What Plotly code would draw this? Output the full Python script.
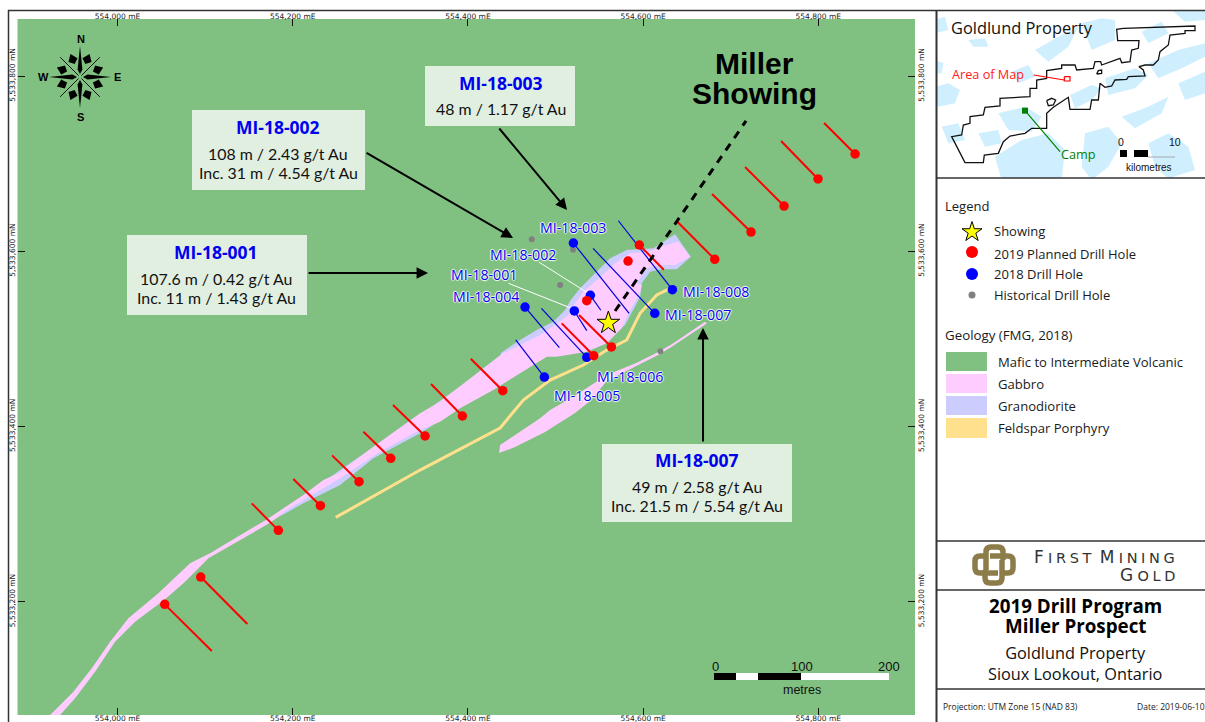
import plotly.graph_objects as go
import math

# ---- Map data: metres east of 554,000 mE and metres north of 5,533,000 mN ----
gabbro_e = [-77,-50.4,-29.4,-8.5,12.4,46.6,82.8,105.6,170.4,212.2,235,252.1,292.1,318.8,345.4,368.2,438.6,463.3,482.4,499.5,514.7,522.3,531.8,550.9,568,585.1,606,619.4,640.2,653.6,636.5,619.4,604.2,592.8,598.5,596.5,585.1,575.6,558.5,535.7,501.4,490,456.5,429,391,368.2,345.4,299.7,254,216,193.2,174.1,103.7,88.5,75.2,54.3,20,-2.8,-25.6,-48.5,-65.6]
gabbro_n = [70.6,97.1,123.9,154.2,180.9,209.5,243.7,255.2,293.9,321.7,338.8,346.5,376.8,395.9,415,428.2,482.7,494.9,504.4,515.8,527.2,540.6,553.8,570.2,586.2,597.6,599.5,605.2,610.9,593.8,584.3,584.3,580.5,563.4,561.4,552,532.9,512,494.9,485.3,479.6,479.6,458.7,441.6,420.7,405.4,395.9,371.1,340.8,317.9,304.6,290,249.4,234.2,220.9,202.6,177.1,154.2,120,89.6,70.6]
granodiorite_e = [437.8,459.5,478.6,497.5,510.9,517.4,528,547.1,562.3,581.3,600.3,611.7,636.5,654.4,638.4,621.3,607.9,598.5,596.5,579.4,550.9,505.2,459.5,428.7,391,345.4,292.1,254,212.2,174.1,254,345.4,436.7]
granodiorite_n = [484.2,498.7,510.1,519.6,532.9,544.3,557.7,576.6,591.9,601.4,602.2,603.3,619.3,593.8,579.4,579.4,576.6,563.4,547.7,515.8,492.9,487.2,464.4,446.1,421,392.1,363.6,333.1,312.2,291.2,350.2,413,478.1]
gabbro2_e = [670.7,634.5,619.4,592.8,558.5,520.4,493.8,482.4,436.7,435.6,453.8,488.1,522.3,539.4,558.5,592.8,619.4,634.5,672.7]
gabbro2_n = [519.5,494.9,486.1,472.8,458.7,433.9,418.7,409.3,378.8,369.7,376.5,393.6,415.3,429,451.8,469.3,482.7,492.2,517.5]
porphyry_e = [249.1,345.4,436.7,446.2,463.3,493.8,531.8,558.5,581.3,596.5,615.6,630.8]
porphyry_n = [296.2,350.2,398.2,409.3,430.2,453,470.1,487.2,498.7,529.1,550,557.7]

planned_e = [53.9,95,183.6,231.6,275.7,311.9,351.1,393.7,439.8,543.7,563.8,535.7,582.8,595.7,681.8,723.2,760.9,799.7,842]
planned_n = [196.9,228.1,281.4,309.5,336.9,363.6,389.1,411.9,440.8,480.7,490.7,543.5,588.8,607.1,590.8,621.9,651.6,682.5,711]
planned_toe_e = [107.6,148.2,153.2,200.7,244.9,280.7,314.5,357.9,403.3,507.1,526.9,None,None,623.6,639.1,678.7,716.4,757.5,806.6]
planned_toe_n = [143.6,174.4,312.2,340,367,394,424.5,448.4,477.3,517.7,527.2,None,None,578.9,633.7,665.3,696.2,725.8,746.4]

drilled_names = ["MI-18-001","MI-18-002","MI-18-003","MI-18-004","MI-18-005","MI-18-006","MI-18-007","MI-18-008"]
drilled_e = [521.5,539.8,520.4,465.2,487.3,535.7,613.3,633.4]
drilled_n = [531.8,549.7,609.4,536.3,456.4,478.9,529.1,556.1]
drilled_toe_e = [535.7,551.7,584,504.4,454.6,483.9,542.9,571.8]
drilled_toe_n = [509.3,532.6,529.1,489.9,498.7,534.8,603.3,634.8]

historical_e = [472.9,520,505.2,619.7]
historical_n = [613.6,601.7,561.4,485.8]
showing_e = [560.3]
showing_n = [518.1]
trend_e = [568,717.5]
trend_n = [531.8,748.7]

easting_ticks = [0,200,400,600,800]
easting_labels = ["554,000 mE","554,200 mE","554,400 mE","554,600 mE","554,800 mE"]
northing_ticks = [200,400,600,800]
northing_labels = ["5,533,200 mN","5,533,400 mN","5,533,600 mN","5,533,800 mN"]

# ---- Location inset (inset map units) ----
lakes = [
 ([405,470,500,470,420],[285,255,265,300,325]),
 ([510,600,640,600,520],[235,205,225,265,285]),
 ([640,730,810,810,740,670],[190,150,130,170,205,235]),
 ([180,260,340,390,380,200],[470,420,400,450,540,540]),
 ([0,40,75,60,10,0],[260,250,270,310,320,300]),
 ([100,150,160,115],[120,115,140,140]),
 ([300,370,430,400,340],[150,110,80,140,185]),
 ([440,500,540,540,470],[70,55,60,120,150]),
 ([190,270,320,290,220],[340,320,350,395,390]),
 ([560,640,700,680,600],[350,320,290,340,385]),
 ([730,810,810,750],[250,215,280,300]),
 ([450,520,560,520,470,440],[400,380,430,500,540,500]),
 ([0,25,20,0],[180,190,220,220]),
 ([640,700,760,780,700,660],[430,400,440,510,535,500]),
 ([0,30,40,0],[60,50,90,100]),
 ([710,810,810,750],[30,30,60,65]),
 ([20,70,90,40],[380,370,420,430]),
 ([130,190,200,150],[400,390,430,440]),
 ([620,680,700,640],[95,65,100,130]),
 ([230,280,300,250],[215,195,230,250]),
]
property_x = [565,780,780,750,750,705,700,675,670,655,630,612,625,630,580,575,540,530,510,495,490,470,465,405,400,375,355,335,335,290,270,225,205,190,148,145,90,50,80,85,105,105,145,150,195,195,285,285,305,305,335,335,380,380,420,425,475,480,497,500,555,560,585,590,610,612,548,545,565,
 None,485,490,500,500,485,None,335,350,362,355,340,335]
property_y = [85,78,92,92,100,105,135,155,180,195,195,200,210,228,230,238,240,258,262,250,300,300,328,328,292,310,322,340,385,385,400,408,425,460,465,488,488,410,405,375,370,350,345,322,318,295,290,265,265,240,235,212,205,195,195,210,205,185,185,195,175,188,185,150,145,122,122,88,85,
 None,222,212,210,220,222,None,302,295,300,315,317,302]
map_area_x = [388,405,405,388,388]
map_area_y = [230,230,243,243,230]
area_leader_x = [296,388]
area_leader_y = [225,240]
camp_x = [270]
camp_y = [332]
camp_leader_x = [270,375]
camp_leader_y = [332,455]

GREEN, PINK, LILAC, YELLOW = "#80C080", "#FFCCFF", "#CCCCFF", "#FFE08C"
RED, BLUE, GREY = "#FF0000", "#0000FF", "#808080"
BODY = "Open Sans"

fig = go.Figure()

def poly(e, n, colour):
    fig.add_trace(go.Scatter(x=e, y=n, mode="lines", fill="toself", fillcolor=colour,
                             line=dict(width=0), hoverinfo="skip"))

def segments(x0, y0, x1, y1):
    xs, ys = [], []
    for a, b, c, d in zip(x0, y0, x1, y1):
        if c is None:
            continue
        xs += [a, c, None]
        ys += [b, d, None]
    return xs, ys

poly(granodiorite_e, granodiorite_n, LILAC)
poly(gabbro_e, gabbro_n, PINK)
poly(gabbro2_e, gabbro2_n, PINK)
fig.add_trace(go.Scatter(x=porphyry_e, y=porphyry_n, mode="lines", line=dict(color=YELLOW, width=3)))

fig.add_trace(go.Scatter(x=[480.9,538.7,None,446.2,518.5], y=[587.7,551.2,None,563.4,534.8], mode="lines",
                         line=dict(color="white", width=1)))
sx, sy = segments(drilled_e, drilled_n, drilled_toe_e, drilled_toe_n)
fig.add_trace(go.Scatter(x=sx, y=sy, mode="lines", line=dict(color="#0000DD", width=1.2)))
sx, sy = segments(planned_e, planned_n, planned_toe_e, planned_toe_n)
fig.add_trace(go.Scatter(x=sx, y=sy, mode="lines", line=dict(color=RED, width=2)))
fig.add_trace(go.Scatter(x=trend_e, y=trend_n, mode="lines", line=dict(color="black", width=3, dash="8px,7px")))
fig.add_trace(go.Scatter(x=historical_e, y=historical_n, mode="markers", marker=dict(color=GREY, size=6)))
fig.add_trace(go.Scatter(x=drilled_e, y=drilled_n, mode="markers", text=drilled_names, marker=dict(color=BLUE, size=9.5)))
fig.add_trace(go.Scatter(x=planned_e, y=planned_n, mode="markers", marker=dict(color=RED, size=9.5)))
fig.add_trace(go.Scatter(x=showing_e, y=showing_n, mode="markers",
                         marker=dict(symbol="star", color="#FFFF00", size=17, line=dict(color="black", width=1))))

fig.add_trace(go.Scatter(x=[None], y=[None], xaxis="x2", yaxis="y2", showlegend=False))

for lx, ly in lakes:
    fig.add_trace(go.Scatter(x=lx, y=ly, xaxis="x3", yaxis="y3", mode="lines", fill="toself",
                             fillcolor="#CFEFFF", line=dict(width=0), hoverinfo="skip"))
fig.add_trace(go.Scatter(x=property_x, y=property_y, xaxis="x3", yaxis="y3", mode="lines",
                         line=dict(color="#111111", width=1.3)))
fig.add_trace(go.Scatter(x=area_leader_x + [None] + map_area_x, y=area_leader_y + [None] + map_area_y,
                         xaxis="x3", yaxis="y3", mode="lines", line=dict(color=RED, width=1.2)))
fig.add_trace(go.Scatter(x=camp_leader_x, y=camp_leader_y, xaxis="x3", yaxis="y3", mode="lines",
                         line=dict(color="#008000", width=1.2)))
fig.add_trace(go.Scatter(x=camp_x, y=camp_y, xaxis="x3", yaxis="y3", mode="markers",
                         marker=dict(symbol="square", color="#008000", size=6)))

fig.add_trace(go.Scatter(x=[972], y=[232], xaxis="x9", yaxis="y9", mode="markers",
                         marker=dict(symbol="star", color="#FFFF00", size=15, line=dict(color="black", width=1))))
fig.add_trace(go.Scatter(x=[972], y=[252], xaxis="x9", yaxis="y9", mode="markers", marker=dict(color=RED, size=12)))
fig.add_trace(go.Scatter(x=[972], y=[274], xaxis="x9", yaxis="y9", mode="markers", marker=dict(color=BLUE, size=12)))
fig.add_trace(go.Scatter(x=[972], y=[295], xaxis="x9", yaxis="y9", mode="markers", marker=dict(color=GREY, size=7)))

shapes, annos = [], []

def rect(x0, y0, x1, y1, fill, line=None, width=0, layer="above"):
    shapes.append(dict(type="rect", xref="x9", yref="y9", x0=x0, y0=y0, x1=x1, y1=y1, fillcolor=fill,
                       line=dict(color=line or fill, width=width), layer=layer))

def hline(x0, y0, x1, y1, colour="#333333", width=1.5):
    shapes.append(dict(type="line", xref="x9", yref="y9", x0=x0, y0=y0, x1=x1, y1=y1,
                       line=dict(color=colour, width=width)))

def text(x, y, s, size=12, colour="#1A1A1A", family=BODY, anchor="center", shadow=None):
    f = dict(size=size, color=colour, family=family)
    if shadow:
        f["shadow"] = shadow
    annos.append(dict(xref="x9", yref="y9", x=x, y=y, text=s, showarrow=False, xanchor=anchor, yanchor="middle",
                      font=f, align="center"))

shapes.append(dict(type="rect", xref="x domain", yref="y domain", x0=0, y0=0, x1=1, y1=1, fillcolor=GREEN,
                   line=dict(width=0), layer="below"))

hline(8, 10.5, 1205, 10.5)
hline(8.5, 10, 8.5, 722)
hline(936.5, 10, 936.5, 722, width=2)
hline(937, 178, 1205, 178)
hline(937, 541, 1205, 541)
hline(937, 590, 1205, 590)
hline(937, 689, 1205, 689)

TITLE_SZ, LINE_SZ = 17.5, 15.9
rect(425, 66, 575, 126, "#E1EFE1")
text(501, 83, "<b>MI-18-003</b>", TITLE_SZ, "#0000EE")
text(501, 108, "48 m / 1.17 g/t Au", LINE_SZ, "#111111", "Lato")
rect(192, 110, 365, 190, "#E1EFE1")
text(278, 127, "<b>MI-18-002</b>", TITLE_SZ, "#0000EE")
text(278, 153, "108 m / 2.43 g/t Au", LINE_SZ, "#111111", "Lato")
text(278, 172, "Inc. 31 m / 4.54 g/t Au", LINE_SZ, "#111111", "Lato")
rect(127, 235, 307, 315, "#E1EFE1")
text(216, 252, "<b>MI-18-001</b>", TITLE_SZ, "#0000EE")
text(216, 278, "107.6 m / 0.42 g/t Au", LINE_SZ, "#111111", "Lato")
text(216, 297, "Inc. 11 m / 1.43 g/t Au", LINE_SZ, "#111111", "Lato")
rect(602, 444, 792, 522, "#E1EFE1")
text(697, 460, "<b>MI-18-007</b>", TITLE_SZ, "#0000EE")
text(697, 486, "49 m / 2.58 g/t Au", LINE_SZ, "#111111", "Lato")
text(697, 505, "Inc. 21.5 m / 5.54 g/t Au", LINE_SZ, "#111111", "Lato")

for tail_e, tail_n, head_e, head_n in [(282.6,713.3,451.5,615.1),(434.4,741.8,513.2,647.1),
                                       (216.4,575.1,354.5,575.1),(668.4,381.1,668.4,512.4)]:
    annos.append(dict(xref="x", yref="y", axref="x", ayref="y", x=head_e, y=head_n, ax=tail_e, ay=tail_n,
                      text="", showarrow=True, arrowhead=2, arrowsize=1.15, arrowwidth=2, arrowcolor="black"))

text(754, 63, "<b>Miller</b>", 30, "black", "Liberation Sans")
text(754, 93, "<b>Showing</b>", 30, "black", "Liberation Sans")

halo = "1px 0 1px #fff, -1px 0 1px #fff, 0 1px 1px #fff, 0 -1px 1px #fff"
for x, y, s in [(573,227,"MI-18-003"),(523,254,"MI-18-002"),(484,274,"MI-18-001"),(486,296,"MI-18-004"),
                (716,291,"MI-18-008"),(698,314,"MI-18-007"),(630,376,"MI-18-006"),(587,395,"MI-18-005")]:
    text(x, y, s, 14.2, "#0000EE", BODY, shadow=halo)

CX, CY = 80, 77
def rot(r, a):
    return CX + r * math.sin(a), CY - r * math.cos(a)
def path(pts):
    return "M " + " L ".join(f"{x:.1f},{y:.1f}" for x, y in pts) + " Z"
for k in range(4):
    a = k * math.pi / 2
    shapes.append(dict(type="path", xref="x9", yref="y9", layer="above", fillcolor="black", line=dict(width=0),
                       path=path([rot(31, a), rot(8, a + 0.3), rot(3, a), rot(8, a - 0.3)])))
for k in range(8):
    a = math.pi / 8 + k * math.pi / 4
    shapes.append(dict(type="path", xref="x9", yref="y9", layer="above", fillcolor="black", line=dict(width=0),
                       path=path([rot(14, a), rot(19, a + 0.26), rot(25, a), rot(19, a - 0.26)])))
for k in range(4):
    a = math.pi / 4 + k * math.pi / 2
    x0, y0 = rot(2, a)
    x1, y1 = rot(28, a)
    hline(x0, y0, x1, y1, "black", 0.9)
for x, y, s in [(81,39,"N"),(80,117,"S"),(43,77,"W"),(117,77,"E")]:
    text(x, y, f"<b>{s}</b>", 11, "black", "Liberation Sans")

rect(714, 673, 736, 680, "black")
rect(736, 673, 758, 680, "white")
rect(758, 673, 801, 680, "black")
rect(801, 673, 889, 680, "white")
for x, s in [(715,"0"),(802,"100"),(889,"200")]:
    text(x, 666, s, 13, "#111111", "Liberation Sans")
text(802, 690, "metres", 12.5, "#111111", "Liberation Sans")

text(1022, 27, "Goldlund Property", 16.4, "#111111")
text(988, 74, "Area of Map", 12.7, "#FF2020")
text(1078, 154, "Camp", 12.7, "#008000")
text(1121, 142, "0", 10.5, "#111111", "Liberation Sans")
text(1175, 142, "10", 10.5, "#111111", "Liberation Sans")
text(1149, 167, "kilometres", 10, "#111111", "Liberation Sans")
rect(1120, 150, 1127, 157, "black")
rect(1134, 150, 1148, 157, "black")
hline(1148, 157, 1175, 157, "#999999", 0.8)

text(943, 206, "Legend", 13, anchor="left")
for y, s in [(231,"Showing"),(254,"2019 Planned Drill Hole"),(274,"2018 Drill Hole"),(295,"Historical Drill Hole")]:
    text(992, y, s, 13, anchor="left")
text(943, 335, "Geology (FMG, 2018)", 13.3, anchor="left")
for y0, y1, c, s in [(352,371,GREEN,"Mafic to Intermediate Volcanic"),(374,393,PINK,"Gabbro"),
                     (396,415,LILAC,"Granodiorite"),(418,438,YELLOW,"Feldspar Porphyry")]:
    rect(946, y0, 987, y1, c)
    text(996, (y0 + y1) / 2, s, 13.1, anchor="left")

GOLD = "#8C7C4A"
for p in ["M 986,570 L 986,552 Q 986,547 991,547 L 998,547 Q 1003,547 1003,552 L 1003,560",
          "M 990,556 L 1008,556 Q 1013,556 1013,561 L 1013,568 Q 1013,573 1008,573 L 1000,573",
          "M 1002,560 L 1002,578 Q 1002,583 997,583 L 990,583 Q 985,583 985,578 L 985,570",
          "M 998,573 L 980,573 Q 975,573 975,568 L 975,561 Q 975,556 980,556 L 988,556"]:
    shapes.append(dict(type="path", xref="x9", yref="y9", path=p, layer="above", line=dict(color=GOLD, width=5.5)))
SP = "\u2005"
small = lambda s: f'<span style="font-size:14.5px">{SP.join(s)}</span>'
text(1177, 557, "F" + SP + small("IRST") + SP + SP + "M" + SP + small("INING"), 17, "#333333", "DejaVu Sans", anchor="right")
text(1177, 575, "G" + SP + small("OLD"), 17, "#333333", "DejaVu Sans", anchor="right")

text(1075, 606, "<b>2019 Drill Program</b>", 18.8, "black")
text(1075, 626, "<b>Miller Prospect</b>", 18.8, "black")
text(1075, 663, "Goldlund Property<br>Sioux Lookout, Ontario", 16.3, "#111111")
text(941, 706, "Projection: UTM Zone 15 (NAD 83)", 8.5, anchor="left")
text(1135, 706, "Date: 2019-06-10", 8.5, anchor="left")

W, H = 1205, 722
dom_x = [17.5 / W, 915 / W]
dom_y = [1 - 715 / H, 1 - 19 / H]
e_range = [-114.2, 910.4]
n_range = [70.6, 865.1]
tick = dict(ticks="inside", ticklen=7, tickwidth=1, tickcolor="#111111", showgrid=False, zeroline=False,
            showline=False, automargin=False, tickfont=dict(size=7.5, color="#222222", family="DejaVu Sans"))
hidden = dict(visible=False, showgrid=False, zeroline=False, fixedrange=True, automargin=False)

fig.update_layout(
    width=W, height=H, margin=dict(l=0, r=0, t=0, b=0, autoexpand=False), showlegend=False,
    paper_bgcolor="white", plot_bgcolor="rgba(0,0,0,0)",
    xaxis=dict(domain=dom_x, range=e_range, tickvals=easting_ticks, ticktext=easting_labels, side="bottom", ticklabelstandoff=-3, **tick),
    yaxis=dict(domain=dom_y, range=n_range, tickvals=northing_ticks, ticktext=northing_labels, tickangle=-90, side="left", **tick),
    xaxis2=dict(domain=dom_x, range=e_range, tickvals=easting_ticks, ticktext=easting_labels, side="top", overlaying="x", anchor="y2", ticklabelstandoff=-2, **tick),
    yaxis2=dict(domain=dom_y, range=n_range, tickvals=northing_ticks, ticktext=northing_labels, tickangle=-90, side="right", overlaying="y", anchor="x2", **tick),
    xaxis3=dict(domain=[937 / W, 1], range=[6, 810], anchor="y3", **hidden),
    yaxis3=dict(domain=[1 - 178 / H, 1 - 11 / H], range=[534, 33], anchor="x3", **hidden),
    xaxis9=dict(domain=[0, 1], range=[0, W], anchor="y9", **hidden),
    yaxis9=dict(domain=[0, 1], range=[H, 0], anchor="x9", **hidden),
    shapes=shapes, annotations=annos,
)

fig.write_html("out.html", config=dict(displayModeBar=False),
               post_script="var s=document.documentElement.style,b=document.body.style;s.overflow='hidden';s.height='722px';b.overflow='hidden';b.margin='0';b.height='722px';")
